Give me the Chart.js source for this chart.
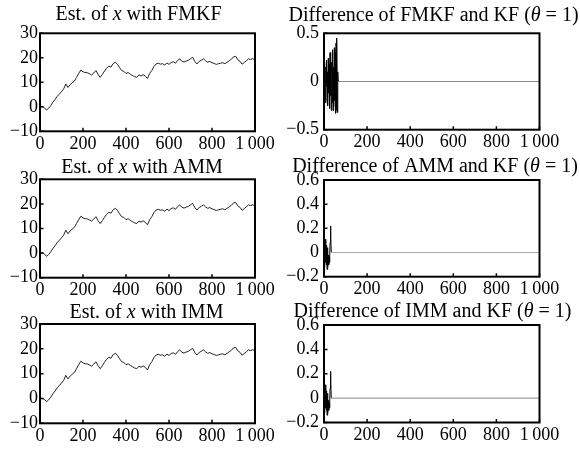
<!DOCTYPE html>
<html><head><meta charset="utf-8">
<script src="https://cdn.jsdelivr.net/npm/chart.js@4/dist/chart.umd.min.js"></script>
<style>
html,body{margin:0;padding:0;background:#fff;overflow:hidden;width:580px;height:454px}
canvas{position:absolute}
</style></head><body>
<canvas id="c1"></canvas><canvas id="c2"></canvas><canvas id="c3"></canvas>
<canvas id="c4"></canvas><canvas id="c5"></canvas><canvas id="c6"></canvas>
<script>
// ---- data ----
const steps = [0,10,20,30,40,50,60,70,80,90,100,110,120,130,140,150,160,170,180,190,
  200,210,220,230,240,250,260,270,280,290,300,310,320,330,340,350,360,370,380,390,
  400,410,420,430,440,450,460,470,480,490,500,510,520,530,540,550,560,570,580,590,
  600,610,620,630,640,650,660,670,680,690,700,710,720,730,740,750,760,770,780,790,
  800,810,820,830,840,850,860,870,880,890,900,910,920,930,940,950,960,970,980,990,1000];
const estFMKF = [0.2,0.0,-0.3,-1.3,-0.6,0.5,1.9,3.0,4.3,5.2,
  6.2,7.3,9.3,7.9,9.0,9.8,10.5,12.0,13.6,15.0,
  14.3,14.0,13.9,13.5,13.0,13.8,14.8,13.2,12.0,13.2,
  14.6,15.8,16.6,16.2,17.6,18.2,17.4,16.0,14.8,14.5,
  13.6,14.0,13.3,12.8,12.3,12.0,13.0,12.6,13.1,12.5,
  11.5,13.6,14.8,16.5,17.5,17.8,17.4,17.6,17.0,17.9,
  17.3,18.1,18.4,17.8,18.9,19.6,18.6,18.3,18.7,19.0,
  19.6,20.2,18.5,17.5,18.5,19.0,19.6,18.8,18.2,18.5,
  18.0,17.7,17.3,17.6,17.8,18.0,17.6,18.2,18.8,19.4,
  20.4,20.6,19.2,18.6,17.4,18.1,18.8,19.6,19.3,19.7,19.0];
const estAMM = estFMKF;
const estIMM = estFMKF;
const diffStepsFMKF = [0,2,4,6,8,10,12,14,16,18,20,22,24,26,28,30,32,34,36,38,40,42,44,46,48,50,52,54,56,58,60,62,64,66,1000];
const diffFMKF = [0.05,-0.18,0.2,-0.22,0.15,-0.05,0.22,-0.2,0.1,-0.25,0.24,-0.12,0.18,-0.28,0.3,-0.15,0.26,-0.3,0.2,-0.22,0.33,-0.3,0.15,-0.26,0.35,-0.2,0.3,-0.33,0.4,-0.3,0.45,-0.32,0.1,0,0];
const diffStepsAMM = [0,2,4,6,8,10,12,14,16,18,20,22,24,26,28,30,32,34,1000];
const diffAMM = [0.02,-0.12,0.1,-0.08,0.11,-0.1,0.06,-0.14,0.04,-0.12,-0.02,-0.1,-0.04,-0.08,0.08,0.22,0.12,0,0];
const diffStepsIMM = diffStepsAMM;
const diffIMM = diffAMM;
const xTickLabels = {0:'0',200:'200',400:'400',600:'600',800:'800',1000:'1\u2009000'};
const titleFMKF = [['Est. of ',false],['x',true],[' with FMKF',false]];
const titleAMM = [['Est. of ',false],['x',true],[' with AMM',false]];
const titleIMM = [['Est. of ',false],['x',true],[' with IMM',false]];
const titleDFMKF = [['Difference of FMKF and KF (',false],['\u03B8',true],[' = 1)',false]];
const titleDAMM = [['Difference of AMM and KF (',false],['\u03B8',true],[' = 1)',false]];
const titleDIMM = [['Difference of IMM and KF (',false],['\u03B8',true],[' = 1)',false]];

// ---- layout ----
const FONT = '"Liberation Serif", "Times New Roman", serif';
const TICK_SIZE = 18;
const panels = [
  {id:'c1', canvas:[0,0,285,150], box:[40,33.3,255,131.3], title:titleFMKF, tc:[138.5,20], xs:steps, ys:estFMKF, y:[-10,30,10], ypad:2, color:'#222'},
  {id:'c2', canvas:[280,0,300,150], box:[324,33.3,539.5,129.7], title:titleDFMKF, tc:[433.5,20.5], xs:diffStepsFMKF, ys:diffFMKF, y:[-0.5,0.5,0.5], ypad:5, color:'#000', flat:'#888'},
  {id:'c3', canvas:[0,150,285,148], box:[40,179.3,255,277.7], title:titleAMM, tc:[142,172.7], xs:steps, ys:estAMM, y:[-10,30,10], ypad:2, color:'#222'},
  {id:'c4', canvas:[280,150,300,148], box:[324,180,539.5,276.7], title:titleDAMM, tc:[435,171.7], xs:diffStepsAMM, ys:diffAMM, y:[-0.2,0.6,0.2], ypad:5, color:'#000', flat:'#aaa'},
  {id:'c5', canvas:[0,298,285,156], box:[40,324,255,423.3], title:titleIMM, tc:[146.5,318.3], xs:steps, ys:estIMM, y:[-10,30,10], ypad:2, color:'#222'},
  {id:'c6', canvas:[280,298,300,156], box:[324,325,539.5,422.5], title:titleDIMM, tc:[432.5,317.3], xs:diffStepsIMM, ys:diffIMM, y:[-0.2,0.6,0.2], ypad:5, color:'#000', flat:'#888'}
];

const framePlugin = {
  id:'frameAndTitle',
  afterDatasetsDraw(chart, args, opts){
    const a = chart.chartArea, ctx = chart.ctx;
    ctx.save();
    ctx.strokeStyle = '#000';
    ctx.lineWidth = 1.5;
    const xs = chart.scales.x, ys = chart.scales.y;
    ctx.beginPath();
    xs.ticks.forEach(t => { const p = xs.getPixelForValue(t.value); ctx.moveTo(p, a.bottom); ctx.lineTo(p, a.bottom - 3.5); });
    ys.ticks.forEach(t => { const p = ys.getPixelForValue(t.value); ctx.moveTo(a.left, p); ctx.lineTo(a.left + 3.5, p); });
    ctx.stroke();
    ctx.lineWidth = 2;
    ctx.strokeRect(a.left, a.top, a.right - a.left, a.bottom - a.top);
    // title
    const segs = opts.segments || [];
    let total = 0;
    segs.forEach(s => { ctx.font = (s[1] ? 'italic ' : '') + '20px ' + FONT; total += ctx.measureText(s[0]).width; });
    let x = opts.cx - total / 2;
    ctx.fillStyle = '#000';
    ctx.textBaseline = 'alphabetic';
    ctx.textAlign = 'left';
    segs.forEach(s => { ctx.font = (s[1] ? 'italic ' : '') + '20px ' + FONT; ctx.fillText(s[0], x, opts.by); x += ctx.measureText(s[0]).width; });
    ctx.restore();
  }
};

function fmtNum(v){
  const r = Math.round(v * 10) / 10;
  const s = String(r);
  return s.startsWith('-') ? '\u2212' + s.slice(1) : s;
}

panels.forEach(p => {
  const [cl, ct, cw, chh] = p.canvas;
  const [bl, bt, br, bb] = p.box;
  const cv = document.getElementById(p.id);
  cv.width = cw; cv.height = chh;
  cv.style.left = cl + 'px'; cv.style.top = ct + 'px';
  cv.style.width = cw + 'px'; cv.style.height = chh + 'px';
  const wy = bl - cl, hx = ct + chh - bb;
  const data = p.xs.map((x, i) => ({x: x, y: p.ys[i]}));
  new Chart(cv, {
    type: 'line',
    data: { datasets: [{
      data: data,
      borderColor: p.color,
      borderWidth: 1,
      pointRadius: 0,
      tension: 0,
      fill: false,
      segment: p.flat ? { borderColor: ctx => (ctx.p1.parsed.x === 1000 ? p.flat : p.color) } : undefined
    }]},
    options: {
      responsive: false,
      animation: false,
      events: [],
      layout: { padding: { left: 0, top: bt - ct, right: cl + cw - br, bottom: 0 } },
      plugins: {
        legend: { display: false },
        tooltip: { enabled: false },
        title: { display: false },
        frameAndTitle: { segments: p.title, cx: p.tc[0] - cl, by: p.tc[1] - ct }
      },
      scales: {
        x: {
          type: 'linear', min: 0, max: 1000,
          grid: { display: false, drawTicks: false },
          border: { display: false },
          ticks: { stepSize: 200, autoSkip: false, maxRotation: 0, padding: 2, color: '#000',
                   font: { family: FONT, size: TICK_SIZE },
                   callback: v => (xTickLabels[v] !== undefined ? xTickLabels[v] : '') },
          afterFit: s => { s.height = hx; }
        },
        y: {
          type: 'linear', min: p.y[0], max: p.y[1],
          grid: { display: false, drawTicks: false },
          border: { display: false },
          ticks: { stepSize: p.y[2], autoSkip: false, padding: p.ypad, color: '#000',
                   font: { family: FONT, size: TICK_SIZE },
                   callback: v => fmtNum(v) },
          afterFit: s => { s.width = wy; }
        }
      }
    },
    plugins: [framePlugin]
  });
});
</script>
</body></html>
